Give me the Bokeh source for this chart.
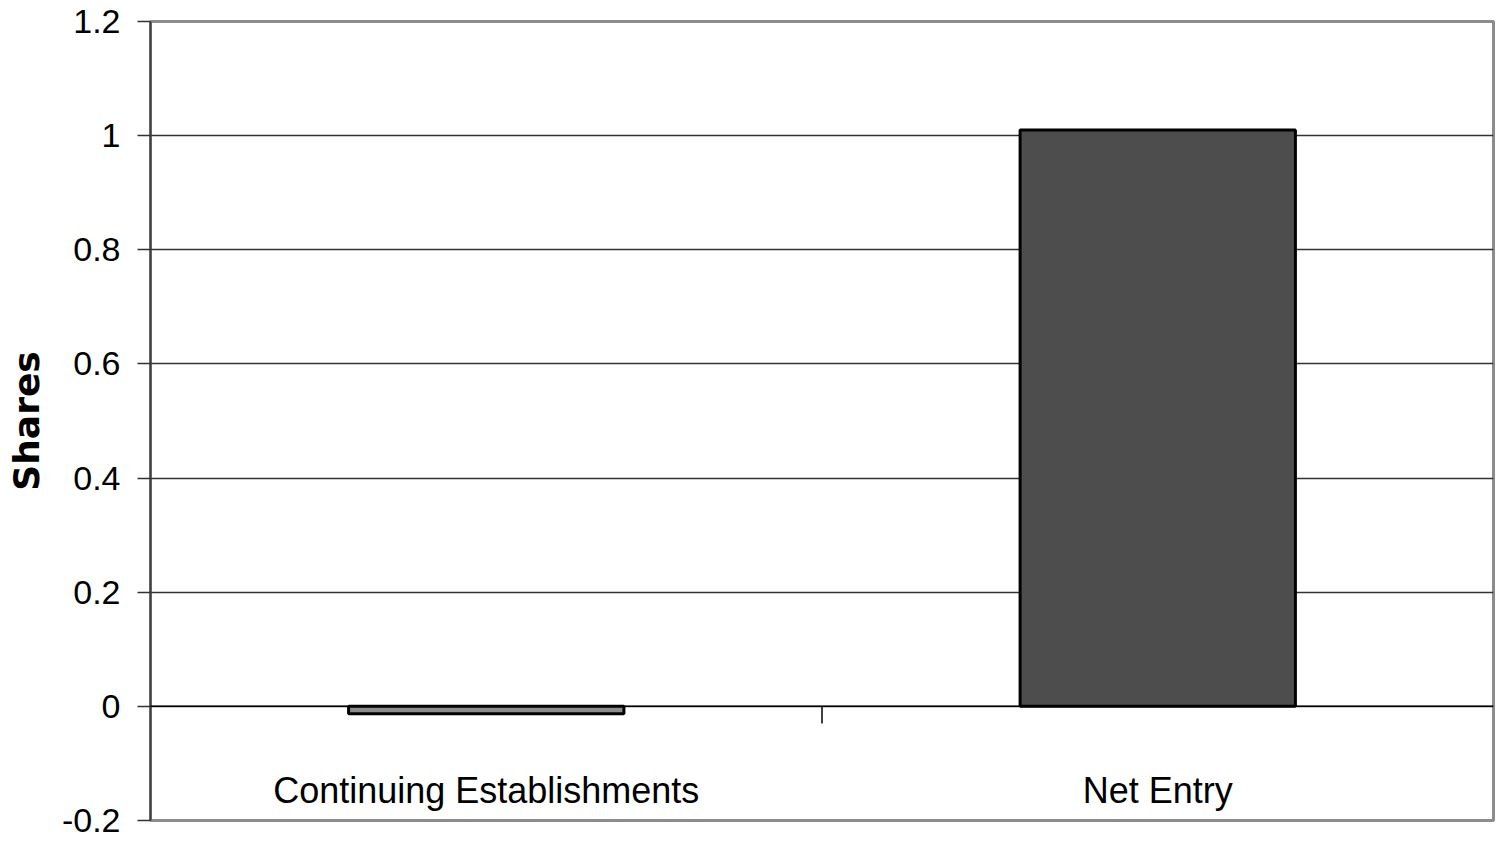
from bokeh.plotting import figure
from bokeh.models import Range1d, FixedTicker, Span, ColumnDataSource
from bokeh.core.properties import value
from bokeh.embed import file_html
from bokeh.resources import INLINE

categories = ["Continuing Establishments", "Net Entry"]
shares = [-0.013, 1.01]
bar_colors = ["#8c8c8c", "#4d4d4d"]
y_ticks = [-0.2, 0.0, 0.2, 0.4, 0.6, 0.8, 1.0, 1.2]
y_tick_labels = ["-0.2", "0", "0.2", "0.4", "0.6", "0.8", "1", "1.2"]

SANS = "Liberation Sans"

xs = [i + 0.5 for i in range(len(categories))]
src = ColumnDataSource(dict(x=xs, top=shares, color=bar_colors, cat=categories,
                            ly=[-0.147] * len(categories)))

p = figure(width=1500, height=843, output_backend="svg", toolbar_location=None,
           x_range=Range1d(0, len(categories)), y_range=Range1d(-0.2, 1.2),
           x_axis_location=None,
           min_border_left=150, min_border_right=7, min_border_top=21, min_border_bottom=23)
p.background_fill_color = "white"
p.border_fill_color = "white"
p.outline_line_color = "#8c8c8c"
p.outline_line_width = 3

p.xgrid.visible = False
p.ygrid.ticker = FixedTicker(ticks=y_ticks)
p.ygrid.grid_line_color = "#333333"
p.ygrid.grid_line_width = 1.5

ax = p.yaxis[0]
ax.ticker = FixedTicker(ticks=y_ticks)
ax.major_label_overrides = {t: l for t, l in zip(y_ticks, y_tick_labels)}
ax.major_label_text_font = SANS
ax.major_label_text_font_size = "34px"
ax.major_label_text_color = "black"
ax.major_label_standoff = 17
ax.major_tick_out = 13
ax.major_tick_in = 0
ax.minor_tick_out = 0
ax.minor_tick_in = 0
ax.major_tick_line_color = "#333333"
ax.major_tick_line_width = 1.5
ax.axis_line_color = "#404040"
ax.axis_line_width = 2
ax.axis_label = "Shares"
ax.axis_label_text_font = "DejaVu Sans"
ax.axis_label_text_font_style = "bold"
ax.axis_label_text_font_size = "36px"
ax.axis_label_text_color = "black"
ax.axis_label_standoff = 12

p.vbar(x="x", top="top", bottom=0, width=0.41, source=src,
       fill_color="color", line_color="black", line_width=3)

p.add_layout(Span(location=0, dimension="width", line_color="black", line_width=1.5))

# category boundary tick below the zero line
p.segment(x0=[1], y0=[0], x1=[1], y1=[-0.03], line_color="black", line_width=1.5)

p.text(x="x", y="ly", text="cat", source=src, text_align="center",
       text_baseline="middle", text_font=value(SANS), text_font_size="36px",
       text_color="black")

open("out.html", "w").write(file_html(p, INLINE))
